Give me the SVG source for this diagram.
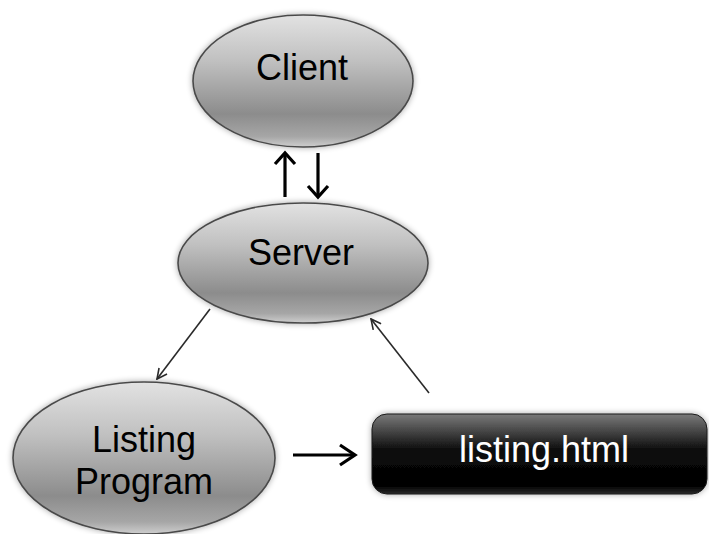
<svg xmlns="http://www.w3.org/2000/svg" width="709" height="534" viewBox="0 0 709 534">
  <style>
    .oval { fill: url(#ovalFill); stroke: #4a4a4a; stroke-width: 1.6; filter: url(#soft); }
    .box { fill: url(#boxFill); stroke: #1a1a1a; stroke-width: 1; filter: url(#soft); }
    .lbl { font-family: "Liberation Sans", Arial, sans-serif; font-size: 36px; text-anchor: middle; }
    .dark { fill: #000; }
    .light { fill: #fff; }
    .thin { stroke: #2a2a2a; stroke-width: 1.6; fill: none; }
    .thick { stroke: #000; stroke-width: 3.2; fill: none; stroke-linecap: butt; stroke-linejoin: miter; }
  </style>
  <defs>
    <linearGradient id="ovalFill" x1="0" y1="0" x2="0" y2="1">
      <stop offset="0" stop-color="#e2e2e2"/>
      <stop offset="0.35" stop-color="#c0c0c0"/>
      <stop offset="0.75" stop-color="#8c8c8c"/>
      <stop offset="0.92" stop-color="#a6a6a6"/>
      <stop offset="1" stop-color="#cecece"/>
    </linearGradient>
    <linearGradient id="boxFill" x1="0" y1="0" x2="0" y2="1">
      <stop offset="0" stop-color="#7a7a7a"/>
      <stop offset="0.45" stop-color="#0c0c0c"/>
      <stop offset="0.9" stop-color="#000"/>
      <stop offset="1" stop-color="#2a2a2a"/>
    </linearGradient>
    <filter id="soft" x="-10%" y="-15%" width="120%" height="130%">
      <feGaussianBlur in="SourceAlpha" stdDeviation="3"/>
      <feComponentTransfer><feFuncA type="linear" slope="0.35"/></feComponentTransfer>
      <feMerge><feMergeNode/><feMergeNode in="SourceGraphic"/></feMerge>
    </filter>
    <marker id="chev" viewBox="0 0 12 12" refX="11" refY="6" markerWidth="12" markerHeight="12" markerUnits="userSpaceOnUse" orient="auto">
      <path d="M1,1 L11,6 L1,11" fill="none" stroke="#2a2a2a" stroke-width="1.6"/>
    </marker>
  </defs>

  <!-- connectors -->
  <g id="connectors">
    <!-- client / server exchange -->
    <path class="thick" d="M285,197 V154"/>
    <path class="thick" d="M275,164 L285,153 L295,164"/>
    <path class="thick" d="M318,153 V196"/>
    <path class="thick" d="M308,186 L318,197 L328,186"/>
    <!-- server to listing program -->
    <line class="thin" x1="210" y1="309" x2="157" y2="379" marker-end="url(#chev)"/>
    <!-- listing.html back to server -->
    <line class="thin" x1="429" y1="393" x2="371" y2="319" marker-end="url(#chev)"/>
    <!-- listing program writes listing.html -->
    <path class="thick" d="M293,455 H354" stroke-width="4"/>
    <path class="thick" d="M340,445 L355,455 L340,465" stroke-width="4"/>
  </g>

  <g id="client">
    <ellipse class="oval" cx="303" cy="81" rx="110" ry="66"/>
    <text class="lbl dark" x="302" y="80">Client</text>
  </g>

  <g id="server">
    <ellipse class="oval" cx="303" cy="263" rx="125" ry="60"/>
    <text class="lbl dark" x="301" y="265">Server</text>
  </g>

  <g id="listing-program">
    <ellipse class="oval" cx="144" cy="458" rx="131" ry="76"/>
    <text class="lbl dark" x="144" y="452">Listing</text>
    <text class="lbl dark" x="144" y="494">Program</text>
  </g>

  <g id="listing-html">
    <rect class="box" x="372" y="414" width="335" height="80" rx="15" ry="15"/>
    <text class="lbl light" x="544" y="462">listing.html</text>
  </g>
</svg>
